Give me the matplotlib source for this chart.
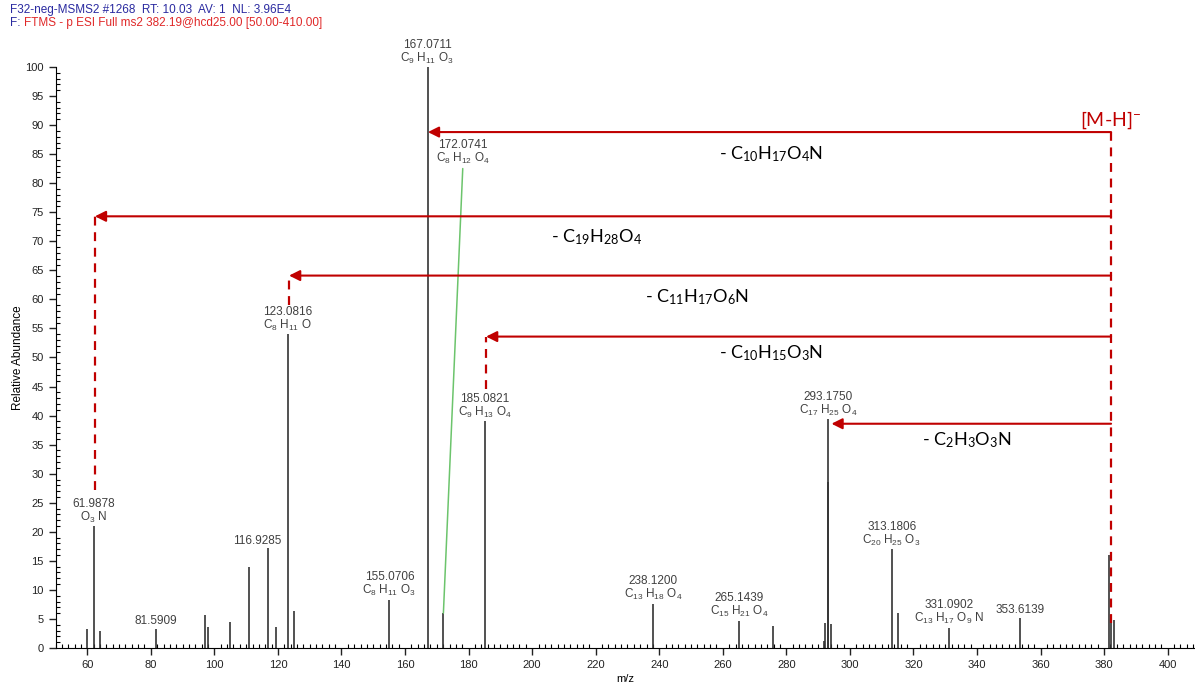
import re
import matplotlib
matplotlib.use('Agg')
import matplotlib.pyplot as plt
from matplotlib.ticker import MultipleLocator

plt.rcParams['font.family'] = ['Liberation Sans', 'DejaVu Sans']

# centroid peaks (m/z, relative abundance)
peak_mz = [59.9, 61.99, 64.0, 81.59, 97.0, 98.0, 105.0, 111.0, 116.93, 119.3,
           123.08, 125.0, 155.07, 167.07, 172.07, 185.08, 238.12, 265.14, 275.7,
           292.0, 292.2, 293.0, 293.17, 294.1, 313.18, 315.0, 331.09, 353.61,
           381.4, 382.19, 383.2]
peak_int = [3.2, 21.0, 2.9, 3.3, 5.7, 3.6, 4.4, 14.0, 17.2, 3.7,
            54.0, 6.3, 8.3, 100.0, 6.0, 39.0, 7.6, 4.7, 3.8,
            1.2, 4.3, 28.6, 39.4, 4.1, 17.0, 6.0, 3.5, 5.2,
            16.0, 4.3, 4.8]

# labelled peaks
label_mz = [61.99, 81.59, 116.93, 123.08, 155.07, 167.07, 185.08, 238.12,
            265.14, 293.17, 313.18, 331.09, 353.61]
label_mass = ['61.9878', '81.5909', '116.9285', '123.0816', '155.0706', '167.0711',
              '185.0821', '238.1200', '265.1439', '293.1750', '313.1806',
              '331.0902', '353.6139']
label_formula = ['O3N', '', '', 'C8H11O', 'C8H11O3', 'C9H11O3', 'C9H13O4',
                 'C13H18O4', 'C15H21O4', 'C17H25O4', 'C20H25O3', 'C13H17O9N', '']

# neutral losses from the precursor
precursor_mz = 382.19
loss_formula = ['C10H17O4N', 'C19H28O4', 'C11H17O6N', 'C10H15O3N', 'C2H3O3N']
loss_target_mz = [167.2, 62.4, 123.5, 185.5, 294.2]

# layout of the loss arrows
arrow_y = [88.8, 74.3, 64.1, 53.6, 38.6]
dash_bottom = [None, 27.2, 59.1, 44.5, None]
loss_text_xy = [(275.2, 85.0), (220.4, 70.7), (251.9, 60.4), (275.2, 50.8), (336.8, 35.8)]

red = '#c00000'
peak_color = '#333333'
label_color = '#404040'


def sub(formula, gap=''):
    return re.sub(r'(\d+)', lambda m: r'$\mathregular{_{%s}}$' % m.group(1) + gap, formula)


fig = plt.figure(figsize=(11.95, 6.84), dpi=100)
ax = fig.add_axes([55.5 / 1195, 36 / 684, 1 - 55.5 / 1195, (648 - 67) / 684])

ax.vlines(peak_mz, 0, peak_int, color=peak_color, lw=1.2)

ax.set_xlim(50, 408.6)
ax.set_ylim(0, 100)
ax.spines['top'].set_visible(False)
ax.spines['right'].set_visible(False)
ax.xaxis.set_major_locator(MultipleLocator(20))
ax.xaxis.set_minor_locator(MultipleLocator(2))
ax.yaxis.set_major_locator(MultipleLocator(5))
ax.yaxis.set_minor_locator(MultipleLocator(1))
ax.tick_params(which='major', direction='out', length=5, width=1, labelsize=8, colors='#222222')
ax.tick_params(which='minor', direction='in', length=3, width=0.8)
ax.set_xlabel('m/z', fontsize=8, labelpad=3)
ax.set_ylabel('Relative Abundance', fontsize=8.5, labelpad=0.5)

# peak annotations
for mz, mass, form in zip(label_mz, label_mass, label_formula):
    h = peak_int[peak_mz.index(mz)]
    txt = mass if not form else mass + '\n' + sub(form, ' ')
    dx = -8 if mz == 116.93 else 0
    ax.annotate(txt, xy=(mz, h), xytext=(dx, 1), textcoords='offset points',
                ha='center', va='bottom', fontsize=8.5, color=label_color,
                linespacing=1.0)

# 172.0741 with leader line
ax.annotate('172.0741\n' + sub('C8H12O4', ' '), xy=(172.07, 6.0), xytext=(178.2, 83.0),
            ha='center', va='bottom', fontsize=8.5, color=label_color, linespacing=1.0,
            arrowprops=dict(arrowstyle='-', color='#6cc46c', lw=1.1, shrinkA=0, shrinkB=0,
                            relpos=(0.5, 0)))

# precursor dashed line and label
prec_int = peak_int[peak_mz.index(precursor_mz)]
ax.plot([precursor_mz, precursor_mz], [prec_int, arrow_y[0]],
        color=red, lw=1.6, ls=(0, (4, 3)))
ax.text(precursor_mz, 90.9, '[M-H]$\\mathregular{^{-}}$', ha='center', va='center',
        fontsize=14, color=red, family=['Lato', 'DejaVu Sans'])

for tx, ay, db, form, (lx, ly) in zip(loss_target_mz, arrow_y, dash_bottom, loss_formula, loss_text_xy):
    ax.annotate('', xy=(tx, ay), xytext=(precursor_mz, ay),
                arrowprops=dict(arrowstyle='-|>', color=red, lw=1.5, mutation_scale=16,
                                shrinkA=0, shrinkB=0))
    if db is not None:
        ax.plot([tx, tx], [db, ay], color=red, lw=1.6, ls=(0, (4, 3)))
    ax.text(lx, ly, '- ' + sub(form), ha='center', va='center', fontsize=13,
            color='black', family=['Lato', 'DejaVu Sans'])

# header
fig.text(10 / 1195, 1 - 10 / 684, 'F32-neg-MSMS2 #1268  RT: 10.03  AV: 1  NL: 3.96E4',
         fontsize=8.5, color='#2a2aa0', va='center')
t2 = fig.text(10 / 1195, 1 - 23 / 684, 'F: ', fontsize=8.5, color='#2a2aa0', va='center')
ax.annotate('FTMS - p ESI Full ms2 382.19@hcd25.00 [50.00-410.00]', xy=(1, 0.5),
            xycoords=t2, va='center', ha='left', fontsize=8.5, color='#e02828',
            annotation_clip=False)

fig.savefig('out.png', dpi=100)
